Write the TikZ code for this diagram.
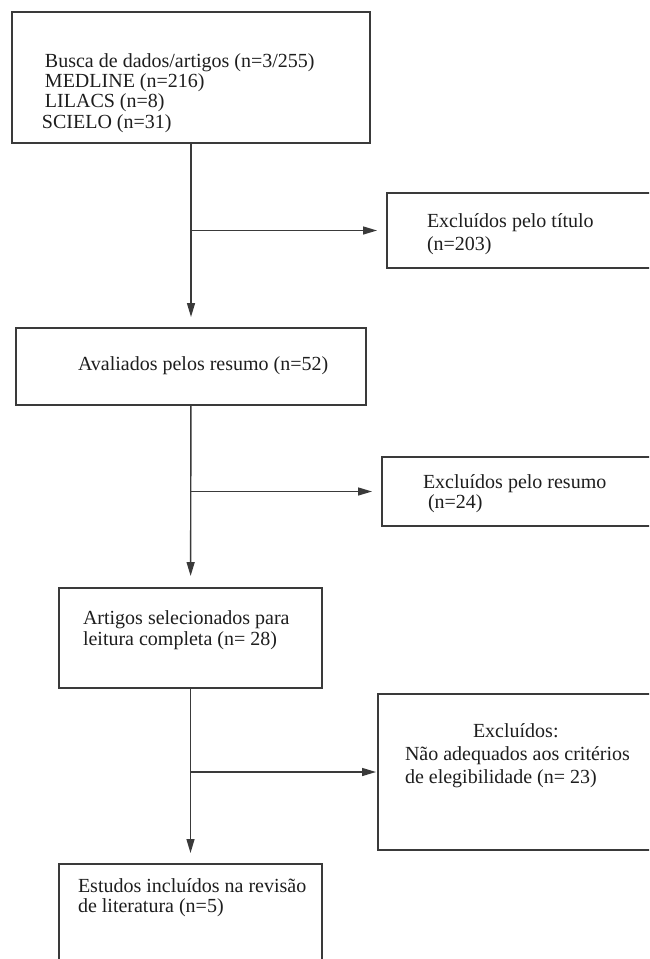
\documentclass[tikz,border=0pt]{standalone}
\usepackage{fontspec}
\setmainfont{Liberation Serif}
\usetikzlibrary{arrows.meta}
\definecolor{linec}{HTML}{3A3A3A}
\definecolor{txtc}{HTML}{1E1E1E}
\tikzset{
  boxnode/.style={draw=linec, line width=1.4pt, inner sep=0pt, outer sep=0pt, fill=none},
  txt/.style={anchor=base west, inner sep=0pt, outer sep=0pt, align=left, text=txtc, font=\fontsize{20}{#1}\selectfont},
  txt/.default=21,
  conn/.style={draw=linec, line width=1.4pt, -{Triangle[length=14pt,width=8pt]}}
}
\begin{document}
\begin{tikzpicture}[x=1pt,y=-1pt]
\useasboundingbox (0,0) rectangle (649,959);
\clip (0,0) rectangle (649,959);
\fill[white] (0,0) rectangle (649,959);
% boxes
\node[boxnode, minimum width=358pt, minimum height=131pt] (b1) at (191,77.5) {};
\node[boxnode, minimum width=268pt, minimum height=75pt] (b3) at (521,230.5) {};
\node[boxnode, minimum width=350pt, minimum height=77pt] (b2) at (191,366.5) {};
\node[boxnode, minimum width=273pt, minimum height=69pt] (b4) at (518.5,491.5) {};
\node[boxnode, minimum width=263pt, minimum height=100pt] (b5) at (190.5,638) {};
\node[boxnode, minimum width=277pt, minimum height=156pt] (b6) at (516.5,772) {};
\node[boxnode, minimum width=263pt, minimum height=110pt] (b7) at (190.5,919) {};
% texts (anchor = baseline of the last line)
\node[txt=20.3] (t1) at (45,128) {Busca de dados/artigos (n=3/255)\\MEDLINE (n=216)\\LILACS (n=8)\\\hspace*{-3pt}SCIELO (n=31)};
\node[txt=23] (t3) at (427,250) {Excluídos pelo título\\(n=203)};
\node[txt] (t2) at (78,370) {Avaliados pelos resumo (n=52)};
\node[txt=20] (t4) at (423,508) {Excluídos pelo resumo\\\hspace*{5pt}(n=24)};
\node[txt=21] (t5) at (83,645) {Artigos selecionados para\\leitura completa (n= 28)};
\node[txt=23] (t6) at (405,783) {\hspace*{68pt}Excluídos:\\Não adequados aos critérios\\de elegibilidade (n= 23)};
\node[txt=20] (t7) at (78,912) {Estudos incluídos na revisão\\de literatura (n=5)};
% junctions
\coordinate (j1) at (b1.south |- b3.west);
\coordinate (j2) at (b2.south |- b4.west);
\coordinate (j3) at (b5.south |- b6.west);
% connectors
\draw[conn, shorten >=11pt] (b1) -- (b2);
\draw[conn, shorten >=10pt] (j1) -- (b3.west);
\draw[conn, shorten >=12pt] (b2) -- (b5);
\draw[conn, shorten >=10pt] (j2) -- (b4.west);
\draw[conn, shorten >=11pt] (b5) -- (b7);
\draw[conn, shorten >=2pt] (j3) -- (b6.west);
\end{tikzpicture}
\end{document}
